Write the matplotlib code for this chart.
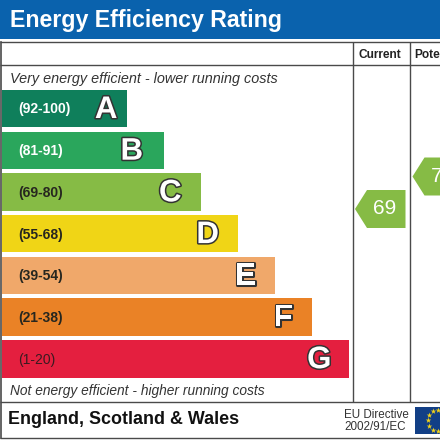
import numpy as np
from matplotlib import pyplot as plt
from matplotlib import patheffects as pe
from matplotlib.patches import Polygon, Rectangle

plt.rcParams["font.family"] = ["Liberation Sans", "DejaVu Sans"]

bands = ["A", "B", "C", "D", "E", "F", "G"]
ranges = ["(92-100)", "(81-91)", "(69-80)", "(55-68)", "(39-54)", "(21-38)", "(1-20)"]
bar_ends = [126.5, 164, 200.5, 238, 274.5, 311.5, 348.5]
bar_colors = ["#0f7f5b", "#2aa65c", "#86bb45", "#f0d516", "#f0a86a", "#ea8226", "#e41f3f"]
range_colors = ["white", "white", "#26261f", "#26261f", "#26261f", "#26261f", "#3a1a20"]
current = 69
potential = 79

fig = plt.figure(figsize=(4.4, 4.4), dpi=100)
ax = fig.add_axes([0, 0, 1, 1])
# axes run in picture pixels, y downward
ax.set_xlim(0, 440)
ax.set_ylim(440, 0)
ax.axis("off")

# header
ax.add_patch(Rectangle((0, 0), 440, 39.5, color="#0a62ad", lw=0))
ax.text(10, 20, "Energy Efficiency Rating", color="white", fontsize=16.7,
        fontweight="bold", va="center", ha="left")

# frame
line = "#4a4a4a"
for y in [42.5, 65.5, 402, 438.5]:
    ax.plot([0, 440], [y, y], color=line, lw=1.0, solid_capstyle="butt")
ax.plot([1, 1], [42.5, 438.5], color=line, lw=1.2)
for x in [353, 410]:
    ax.plot([x, x], [42.5, 402], color=line, lw=1.0, solid_capstyle="butt")

ax.text(380, 54.5, "Current", fontsize=8.6, fontweight="bold", color="#222222",
        ha="center", va="center")
ax.text(414, 54.5, "Potential", fontsize=8.6, fontweight="bold", color="#222222",
        ha="left", va="center", clip_on=True)

ax.text(10, 78.5, "Very energy efficient - lower running costs", fontsize=10.4,
        style="italic", color="#333333", va="center")
ax.text(10, 390.5, "Not energy efficient - higher running costs", fontsize=9.95,
        style="italic", color="#333333", va="center")

# bands
letter_gaps = [9, 21, 19, 19, 18.5, 18.5, 17]
for i, band in enumerate(bands):
    top = 90 + i * 41.7
    ax.add_patch(Rectangle((1.5, top), bar_ends[i] - 1.5, 37.3, color=bar_colors[i], lw=0))
    ax.text(18, top + 19.5, ranges[i], color=range_colors[i], fontsize=10,
            fontweight="bold" if i < 6 else "normal", va="center")
    ax.text(bar_ends[i] - letter_gaps[i], top + 20, band, color="white", fontsize=22.5,
            fontweight="bold", ha="right", va="center",
            path_effects=[pe.withStroke(linewidth=2.2, foreground="#333333")])


# arrows
def arrow(left, right, mid, value):
    pts = [(left, mid), (left + 12, mid - 19), (right, mid - 19), (right, mid + 19), (left + 12, mid + 19)]
    ax.add_patch(Polygon(pts, closed=True, color="#86bb45", lw=0))
    ax.text(left + 30, mid, str(value), color="white", fontsize=15, ha="center", va="center")


arrow(355, 405.5, 209, current)
arrow(412.5, 470, 176.5, potential)

# footer
ax.text(8, 420, "England, Scotland & Wales", fontsize=12.9, fontweight="bold",
        color="#111111", va="center")
ax.text(344, 414.5, "EU Directive", fontsize=8.4, color="#333333", va="center")
ax.text(344, 427.5, "2002/91/EC", fontsize=8.4, color="#333333", va="center")

# flag
ax.add_patch(Rectangle((415, 407), 30, 27, color="#123f86", lw=0))
angles = np.arange(12) * np.pi / 6
ax.scatter(438 + 10.5 * np.cos(angles), 420.5 + 10.5 * np.sin(angles), marker="*", s=18,
           color="#f2d21a", linewidths=0, zorder=3)

fig.savefig("out.png", dpi=100)
plt.close()
